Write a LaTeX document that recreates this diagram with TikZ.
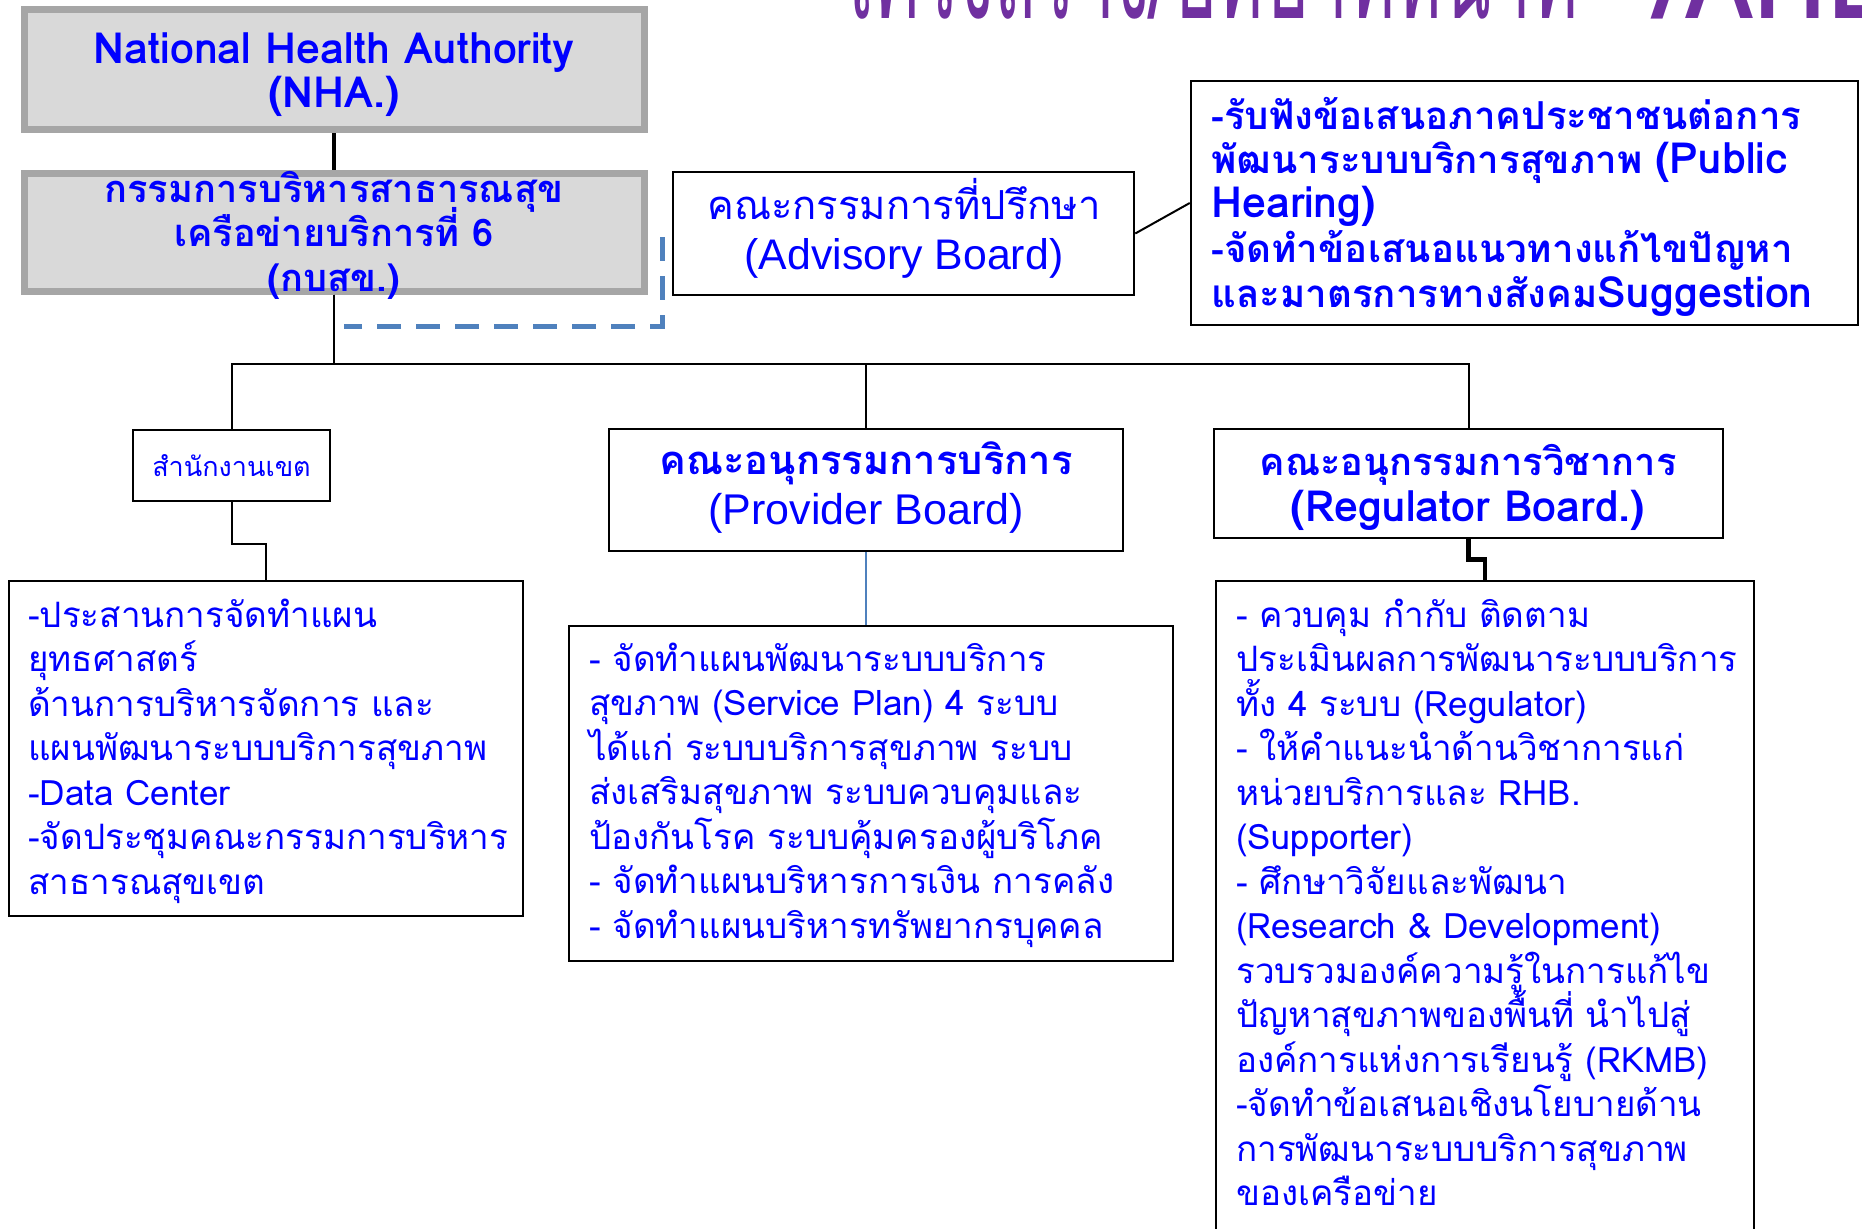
\documentclass[tikz,border=0pt]{standalone}
\usepackage{fontspec}
\setmainfont{Liberation Sans}
\newfontfamily\thai[Script=Thai]{Loma}
\newfontfamily\thaititle[Script=Thai,FakeStretch=0.475]{Loma}
\newfontfamily\tagtitle[FakeStretch=0.85]{Loma}
\newfontfamily\arialfont{Liberation Sans}
\usetikzlibrary{calc}
\definecolor{txtblue}{HTML}{0000FF}
\definecolor{boxgray}{HTML}{D9D9D9}
\definecolor{edgegray}{HTML}{A6A6A6}
\definecolor{titlepurple}{HTML}{7030A0}
\definecolor{dashblue}{HTML}{4F81BD}
% larger size for Latin runs inside bold headings
\newcommand{\latinbig}[1]{{\fontsize{43}{45}\selectfont #1}}
% fixed line pitch, whatever the Thai marks above and below
\newcommand{\fixedlines}{\lineskiplimit=-1000pt\lineskip=0pt\relax}
\begin{document}
\begin{tikzpicture}[x=1pt,y=-1pt,
  graybox/.style={draw=edgegray, line width=7pt, fill=boxgray, inner sep=0pt},
  plainbox/.style={draw=black, line width=2.5pt, fill=white, inner sep=0pt},
  link/.style={draw=black, line width=2pt},
  heavylink/.style={draw=black, line width=4.5pt},
  headbold/.style={text=txtblue, font=\thai\bfseries\fontsize{38}{44.5}\selectfont\fixedlines, align=center, inner sep=0pt},
  bodytext/.style={text=txtblue, font=\thai\fontsize{35}{44.5}\selectfont\fixedlines, inner sep=0pt, anchor=base west},
  boldbody/.style={text=txtblue, font=\thai\bfseries\fontsize{38.5}{44.5}\selectfont\fixedlines, inner sep=0pt, anchor=base west},
  titletext/.style={anchor=base west, inner sep=0pt, text=titlepurple},
]
\useasboundingbox (0,0) rectangle (1862,1228);
\clip (0,0) rectangle (1862,1228);

% heading, partly above the page edge
\node[titletext, font=\thaititle\fontsize{150}{150}\selectfont] (title) at (835,19)
  {โครงสร้าง/บทบาทหน้าที่};
\node[titletext, font=\tagtitle\bfseries\fontsize{120}{120}\selectfont] (titletag) at (1656,19)
  {/AHB};

% top of the hierarchy
\node[graybox, minimum width=620pt, minimum height=120pt] (nha) at (334,70) {};
\node[headbold, font=\thai\bfseries\fontsize{43}{44}\selectfont\fixedlines] (nhatext) at (334,75)
  {National Health Authority\\(NHA.)};

\node[graybox, minimum width=620pt, minimum height=118pt] (kbsk) at (334,232) {};
\node[headbold] (kbsktext) at (334,235)
  {กรรมการบริหารสาธารณสุข\\เครือข่ายบริการที่ 6\\(กบสข.)};

% advisory board and its duties
\node[plainbox, minimum width=461pt, minimum height=123pt] (advisory) at (903.5,233.5) {};
\node[text=txtblue, align=center, inner sep=0pt, font=\thai\fontsize{40}{50}\selectfont\fixedlines] (advisorytext) at (904,228)
  {คณะกรรมการที่ปรึกษา\\
   {\arialfont\fontsize{42.8}{50}\selectfont (Advisory Board)}};

\node[plainbox, minimum width=667pt, minimum height=244pt] (hearing) at (1524.5,203) {};
\node[boldbody] (hearingtext) at (1211,129)
  {\parbox[t]{650pt}{\raggedright\fixedlines
   -รับฟังข้อเสนอภาคประชาชนต่อการ\\
   พัฒนาระบบบริการสุขภาพ \latinbig{(Public}\\
   \latinbig{Hearing)}\\
   -จัดทำข้อเสนอแนวทางแก้ไขปัญหา\\
   และมาตรการทางสังคม\latinbig{Suggestion}}};

% second level
\node[plainbox, minimum width=197pt, minimum height=71pt] (office) at (231.5,465.5) {};
\node[text=txtblue, inner sep=0pt, font=\thai\fontsize{27}{30}\selectfont] (officetext) at (office.center) {สำนักงานเขต};

\node[plainbox, minimum width=514pt, minimum height=122pt] (provider) at (866,490) {};
\node[text=txtblue, align=center, inner sep=0pt, font=\thai\bfseries\fontsize{40}{50}\selectfont\fixedlines] (providertext) at (866,488)
  {คณะอนุกรรมการบริการ\\
   {\arialfont\mdseries\fontsize{43}{50}\selectfont (Provider Board)}};

\node[plainbox, minimum width=509pt, minimum height=109pt] (regulator) at (1468.5,483.5) {};
\node[headbold, font=\thai\bfseries\fontsize{38}{46}\selectfont\fixedlines] (regulatortext) at (1468,487)
  {คณะอนุกรรมการวิชาการ\\\latinbig{(Regulator Board.)}};

% duty boxes
\node[plainbox, minimum width=514pt, minimum height=335pt] (officeduty) at (266,748.5) {};
\node[bodytext] (officedutytext) at (28,627)
  {\parbox[t]{490pt}{\raggedright\fixedlines
   -ประสานการจัดทำแผน\\
   ยุทธศาสตร์\\
   ด้านการบริหารจัดการ และ\\
   แผนพัฒนาระบบบริการสุขภาพ\\
   -Data Center\\
   -จัดประชุมคณะกรรมการบริหาร\\
   สาธารณสุขเขต}};

\node[plainbox, minimum width=604pt, minimum height=335pt] (providerduty) at (871,793.5) {};
\node[bodytext] (providerdutytext) at (589,671)
  {\parbox[t]{590pt}{\raggedright\fixedlines
   - จัดทำแผนพัฒนาระบบบริการ\\
   สุขภาพ (Service Plan) 4 ระบบ\\
   ได้แก่ ระบบบริการสุขภาพ ระบบ\\
   ส่งเสริมสุขภาพ ระบบควบคุมและ\\
   ป้องกันโรค ระบบคุ้มครองผู้บริโภค\\
   - จัดทำแผนบริหารการเงิน การคลัง\\
   - จัดทำแผนบริหารทรัพยากรบุคคล}};

\node[plainbox, minimum width=538pt, minimum height=669pt] (regulatorduty) at (1485,915.5) {};
\node[bodytext] (regulatordutytext) at (1236,627)
  {\parbox[t]{520pt}{\raggedright\fixedlines
   - ควบคุม กำกับ ติดตาม\\
   ประเมินผลการพัฒนาระบบบริการ\\
   ทั้ง 4 ระบบ (Regulator)\\
   - ให้คำแนะนำด้านวิชาการแก่\\
   หน่วยบริการและ RHB.\\
   (Supporter)\\
   - ศึกษาวิจัยและพัฒนา\\
   (Research \& Development)\\
   รวบรวมองค์ความรู้ในการแก้ไข\\
   ปัญหาสุขภาพของพื้นที่ นำไปสู่\\
   องค์การแห่งการเรียนรู้ (RKMB)\\
   -จัดทำข้อเสนอเชิงนโยบายด้าน\\
   การพัฒนาระบบบริการสุขภาพ\\
   ของเครือข่าย}};

% connectors
\draw[heavylink] (nha.south) -- (kbsk.north);
\draw[link] (kbsk.south) -- ++(0,69) -| (office.north);
\draw[link] (kbsk.south) -- ++(0,69) -| (provider.north);
\draw[link] (kbsk.south) -- ++(0,69) -| (regulator.north);
\draw[dashblue, line width=4.5pt, dash pattern=on 24pt off 15pt]
  ($(kbsk.east)+(15,5)$) |- ($(kbsk.south)+(10,32)$);
\draw[link] (advisory.east) -- (hearing.west);
\draw[link] (office.south) -- ++(0,42) -| (officeduty.north);
\draw[dashblue, line width=1.5pt] (provider.south) -- (provider.south |- providerduty.north);
\draw[heavylink] (regulator.south) -- ++(0,20) -| (regulatorduty.north);
\end{tikzpicture}
\end{document}
